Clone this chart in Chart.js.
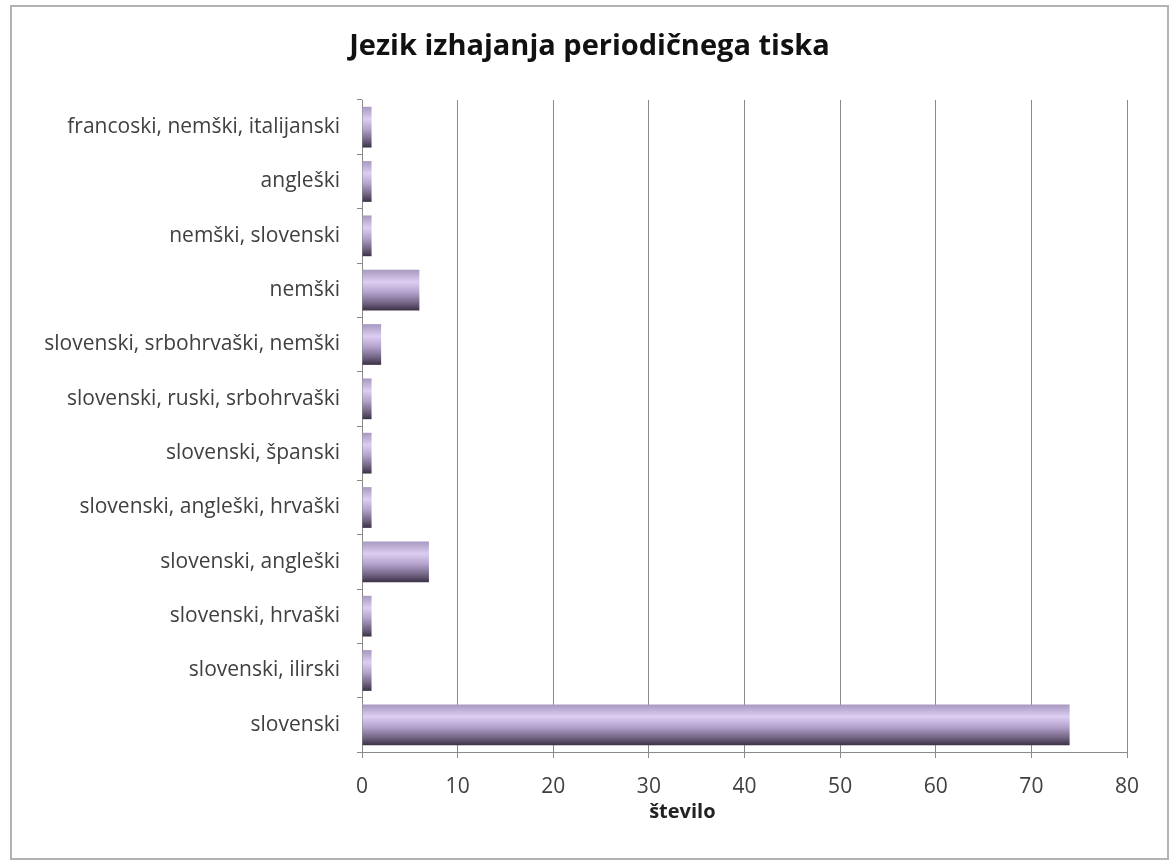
<!DOCTYPE html>
<html lang="sl">
<head>
<meta charset="utf-8">
<title>Jezik izhajanja periodičnega tiska</title>
<script src="https://cdn.jsdelivr.net/npm/chart.js@4/dist/chart.umd.min.js"></script>
<style>
  html, body { margin: 0; padding: 0; background: #fff; }
  #wrap { width: 1172px; height: 865px; position: relative; }
</style>
</head>
<body>
<div id="wrap"><canvas id="langChart"></canvas></div>
<script>
// categories top to bottom as they appear on the axis
const jeziki = [
  "francoski, nemški, italijanski",
  "angleški",
  "nemški, slovenski",
  "nemški",
  "slovenski, srbohrvaški, nemški",
  "slovenski, ruski, srbohrvaški",
  "slovenski, španski",
  "slovenski, angleški, hrvaški",
  "slovenski, angleški",
  "slovenski, hrvaški",
  "slovenski, ilirski",
  "slovenski",
];
const stevilo = [1, 1, 1, 6, 2, 1, 1, 1, 7, 1, 1, 74];
const xTicks = [0, 10, 20, 30, 40, 50, 60, 70, 80];

const naslov = "Jezik izhajanja periodičnega tiska";
const osX = "število";

const FONT = "'Open Sans', sans-serif";
const TEXT = "#404040";
const FRAME = { x: 11, y: 6, w: 1157, h: 853 };

// vertical shaded fill for each bar, built from the bar's own band on the y scale
function barGradient(ctx) {
  const chart = ctx.chart;
  const y = chart.scales.y;
  if (!chart.chartArea || !y || ctx.dataIndex === undefined) return "#b9a6d6";
  const center = y.getPixelForValue(ctx.dataIndex);
  const band = y.getPixelForValue(1) - y.getPixelForValue(0);
  const half = Math.abs(band) * 0.75 / 2;
  const g = chart.ctx.createLinearGradient(0, center - half, 0, center + half);
  g.addColorStop(0, "#a798c0");
  g.addColorStop(0.3, "#ddcdf2");
  g.addColorStop(0.55, "#b4a3cc");
  g.addColorStop(0.8, "#776889");
  g.addColorStop(1, "#3b3145");
  return g;
}

// outer frame, title centred in the frame, and the x axis caption
const extras = {
  id: "extras",
  beforeDraw(chart) {
    const c = chart.ctx;
    c.save();
    c.fillStyle = "#fff";
    c.fillRect(0, 0, chart.width, chart.height);
    c.strokeStyle = "#b3b3b3";
    c.lineWidth = 2;
    c.strokeRect(FRAME.x, FRAME.y, FRAME.w, FRAME.h);
    c.restore();
  },
  afterDraw(chart) {
    const c = chart.ctx;
    const x = chart.scales.x;
    c.save();
    c.textAlign = "center";
    c.textBaseline = "middle";
    c.fillStyle = "#111";
    c.font = "bold 29px " + FONT;
    c.fillText(naslov, FRAME.x + FRAME.w / 2, 47);
    c.fillStyle = "#222";
    c.font = "bold 20px " + FONT;
    c.fillText(osX, x.getPixelForValue(33.5), x.top + 60);
    c.restore();
  },
};

new Chart(document.getElementById("langChart"), {
  type: "bar",
  data: {
    labels: jeziki,
    datasets: [
      {
        label: osX,
        data: stevilo,
        backgroundColor: barGradient,
        borderWidth: 0,
        barPercentage: 0.75,
        categoryPercentage: 1,
      },
    ],
  },
  options: {
    indexAxis: "y",
    responsive: true,
    maintainAspectRatio: false,
    animation: false,
    layout: { padding: { left: 0, right: 45, top: 100, bottom: 0 } },
    plugins: {
      legend: { display: false },
      tooltip: { enabled: false },
      title: { display: false },
    },
    scales: {
      x: {
        min: 0,
        max: 80,
        afterBuildTicks(scale) {
          scale.ticks = xTicks.map((v) => ({ value: v }));
        },
        afterFit(scale) {
          scale.height = 113;
        },
        grid: {
          color: "#8a8a8a",
          lineWidth: 1,
          tickLength: 6,
        },
        border: { color: "#8a8a8a" },
        ticks: {
          color: TEXT,
          padding: 16,
          font: { family: FONT, size: 21 },
        },
      },
      y: {
        afterFit(scale) {
          scale.width = 362;
        },
        grid: {
          drawOnChartArea: false,
          color: "#8a8a8a",
          tickLength: 5,
        },
        border: { color: "#8a8a8a" },
        ticks: {
          color: TEXT,
          padding: 17,
          font: { family: FONT, size: 21 },
        },
      },
    },
  },
  plugins: [extras],
});
</script>
</body>
</html>
